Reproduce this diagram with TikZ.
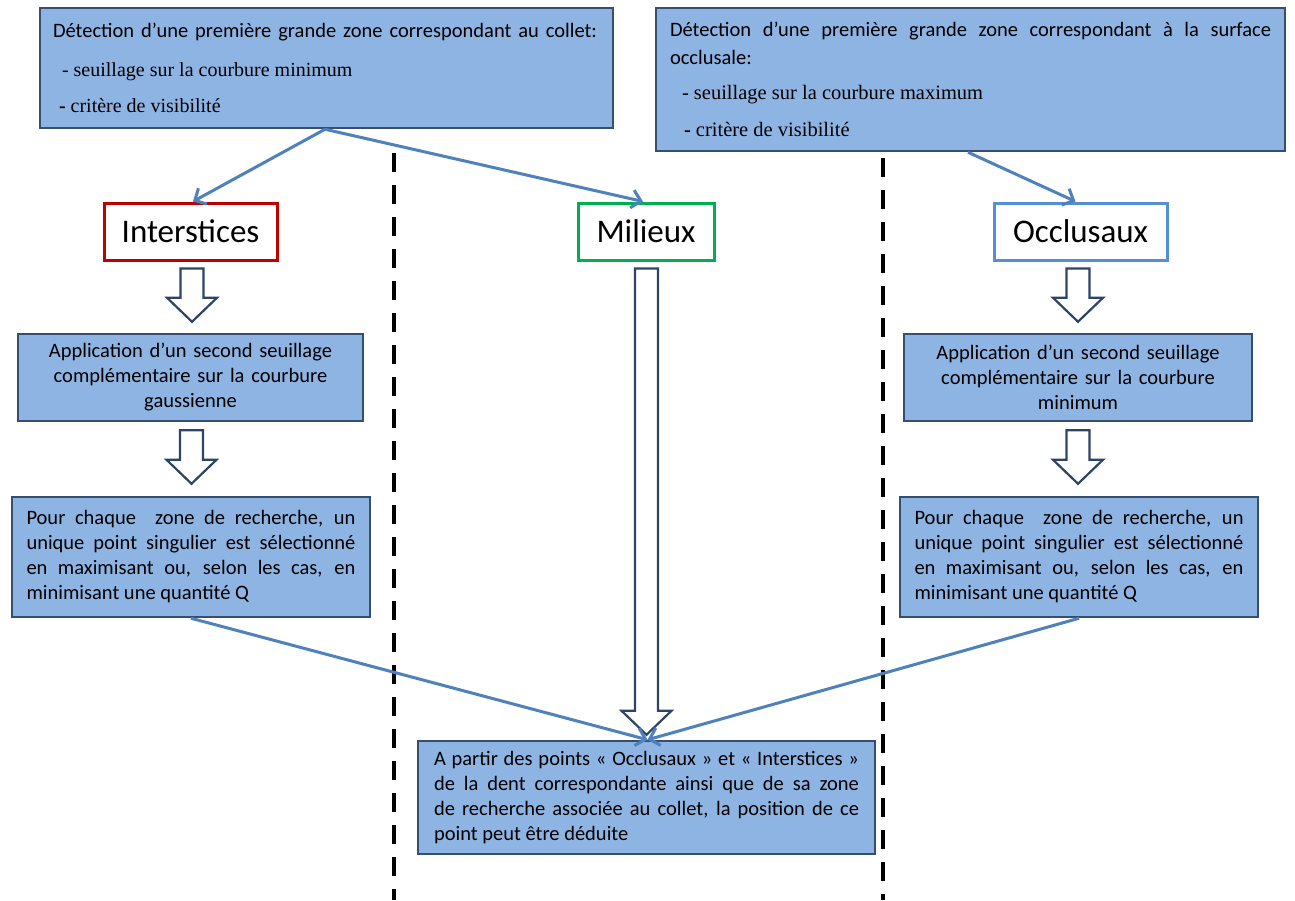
\documentclass[tikz,border=0pt]{standalone}
\usepackage{fontspec}
\setmainfont{Carlito}
\newfontfamily\tmsfont{Liberation Serif}
\usetikzlibrary{arrows.meta,calc}
\definecolor{boxfill}{HTML}{8EB4E3}
\definecolor{boxline}{HTML}{374E6E}
\definecolor{connblue}{HTML}{4F81BD}
\definecolor{redb}{HTML}{C00000}
\definecolor{greenb}{HTML}{00B050}
\definecolor{blueb}{HTML}{558ED5}
\definecolor{barr}{HTML}{2E4466}
\newcommand\hollowarrow[2]{%
  \draw[blockarr] let \p1=(#1), \p2=(#2) in
    (\x2-11.5pt,\y1) -- (\x2+11.5pt,\y1) -- (\x2+11.5pt,\y2+24pt) -- (\x2+25pt,\y2+24pt)
    -- (\x2,\y2) -- (\x2-25pt,\y2+24pt) -- (\x2-11.5pt,\y2+24pt) -- cycle;}
\begin{document}
\begin{tikzpicture}[x=1pt,y=-1pt,
  bluebox/.style={draw=boxline, line width=2.5pt, fill=boxfill, rectangle, inner ysep=0pt,
    font=\fontsize{20.5}{25}\selectfont},
  tagbox/.style={rectangle, fill=white, line width=3pt, font=\fontsize{33}{36}\selectfont,
    minimum height=57pt, inner sep=0pt},
  link/.style={draw=connblue, line width=3pt, -{Straight Barb[length=9pt,width=18pt]}},
  blockarr/.style={draw=barr, line width=2.2pt, fill=white, line join=miter},
  sepline/.style={line width=4pt, dash pattern=on 19pt off 13pt}
]
\useasboundingbox[fill=white] (0,0) rectangle (1295,900);

% separators
\draw[sepline] (394,153) -- (394,900);
\draw[sepline] (883,158) -- (883,900);

% top boxes
\node[bluebox, minimum width=573pt, minimum height=120pt, text width=547pt, inner xsep=13pt, align=flush left] (tl) at (326.5,68)
{\makebox[544pt][s]{Détection d’une première grande zone correspondant au collet:}\\[14pt]
{\tmsfont\fontsize{20}{24}\selectfont\hspace*{9pt}- seuillage sur la courbure minimum}\\[11pt]
{\tmsfont\fontsize{20}{24}\selectfont\hspace*{6pt}\textbf{-} critère de visibilité}};

\node[bluebox, minimum width=629pt, minimum height=143pt, text width=601pt, inner xsep=14pt, align=justify,
  font=\fontsize{20.5}{28}\selectfont] (tr) at (970.5,79.5)
{Détection d’une première grande zone correspondant à la surface\linebreak occlusale:\\[7pt]
{\tmsfont\fontsize{20.5}{24}\selectfont\hspace*{12pt}- seuillage sur la courbure maximum}\\[9pt]
{\tmsfont\fontsize{20.5}{24}\selectfont\hspace*{14pt}\textbf{-} critère de visibilité}};

% tags
\node[tagbox, draw=redb, minimum width=173pt] (int) at (190.5,231.5) {Interstices};
\node[tagbox, draw=greenb, minimum width=136pt] (mil) at (646,231.5) {Milieux};
\node[tagbox, draw=blueb, minimum width=173pt] (occ) at (1080.5,231.5) {Occlusaux};

% second threshold boxes
\node[bluebox, minimum width=345pt, minimum height=87pt, text width=330pt, inner xsep=7pt, align=center] (al) at (190.5,377.5)
{Application d’un second seuillage\\complémentaire sur la courbure\\gaussienne};
\node[bluebox, minimum width=348pt, minimum height=87pt, text width=330pt, inner xsep=9pt, align=center] (ar) at (1078,377.5)
{Application d’un second seuillage\\complémentaire sur la courbure\\minimum};

% point selection boxes
\node[bluebox, minimum width=358pt, minimum height=120pt, text width=329pt, inner xsep=14.5pt, align=justify] (pl) at (191,557)
{Pour chaque \ zone de recherche, un\linebreak unique point singulier est sélectionné\linebreak en maximisant ou, selon les cas, en\linebreak minimisant une quantité Q};
\node[bluebox, minimum width=358pt, minimum height=120pt, text width=329pt, inner xsep=14.5pt, align=justify] (pr) at (1079,557)
{Pour chaque \ zone de recherche, un\linebreak unique point singulier est sélectionné\linebreak en maximisant ou, selon les cas, en\linebreak minimisant une quantité Q};

% bottom box
\node[bluebox, minimum width=457pt, minimum height=113pt, text width=425pt, inner xsep=16pt, align=justify] (b) at (646.5,797.5)
{A partir des points « Occlusaux » et « Interstices »\linebreak de la dent correspondante ainsi que de sa zone\linebreak de recherche associée au collet, la position de ce\linebreak point peut être déduite};

% hollow block arrows
\hollowarrow{$(int.south)+(1.5,7)$}{$(al.north)+(1.5,-11)$}
\hollowarrow{$(al.south)+(1.5,8)$}{$(pl.north)+(0.5,-12)$}
\hollowarrow{$(occ.south)+(-2.5,7)$}{$(ar.north)+(0,-11)$}
\hollowarrow{$(ar.south)+(0,8)$}{$(pr.north)+(-1,-12)$}
\hollowarrow{$(mil.south)+(0,7)$}{$(b.north)+(0,-5)$}

% connectors
\draw[link] ($(tl.south)+(-1.5,0)$) -- ($(int.north)+(2.5,0)$);
\draw[link] ($(tl.south)+(-1.5,0)$) -- ($(mil.north)+(-3,0)$);
\draw[link] ($(tr.south)+(-2.5,0)$) -- ($(occ.north)+(-5,0)$);
\draw[link] (pl.south) -- ($(b.north)+(1,0)$);
\draw[link] (pr.south) -- ($(b.north)+(1,0)$);
\end{tikzpicture}
\end{document}
